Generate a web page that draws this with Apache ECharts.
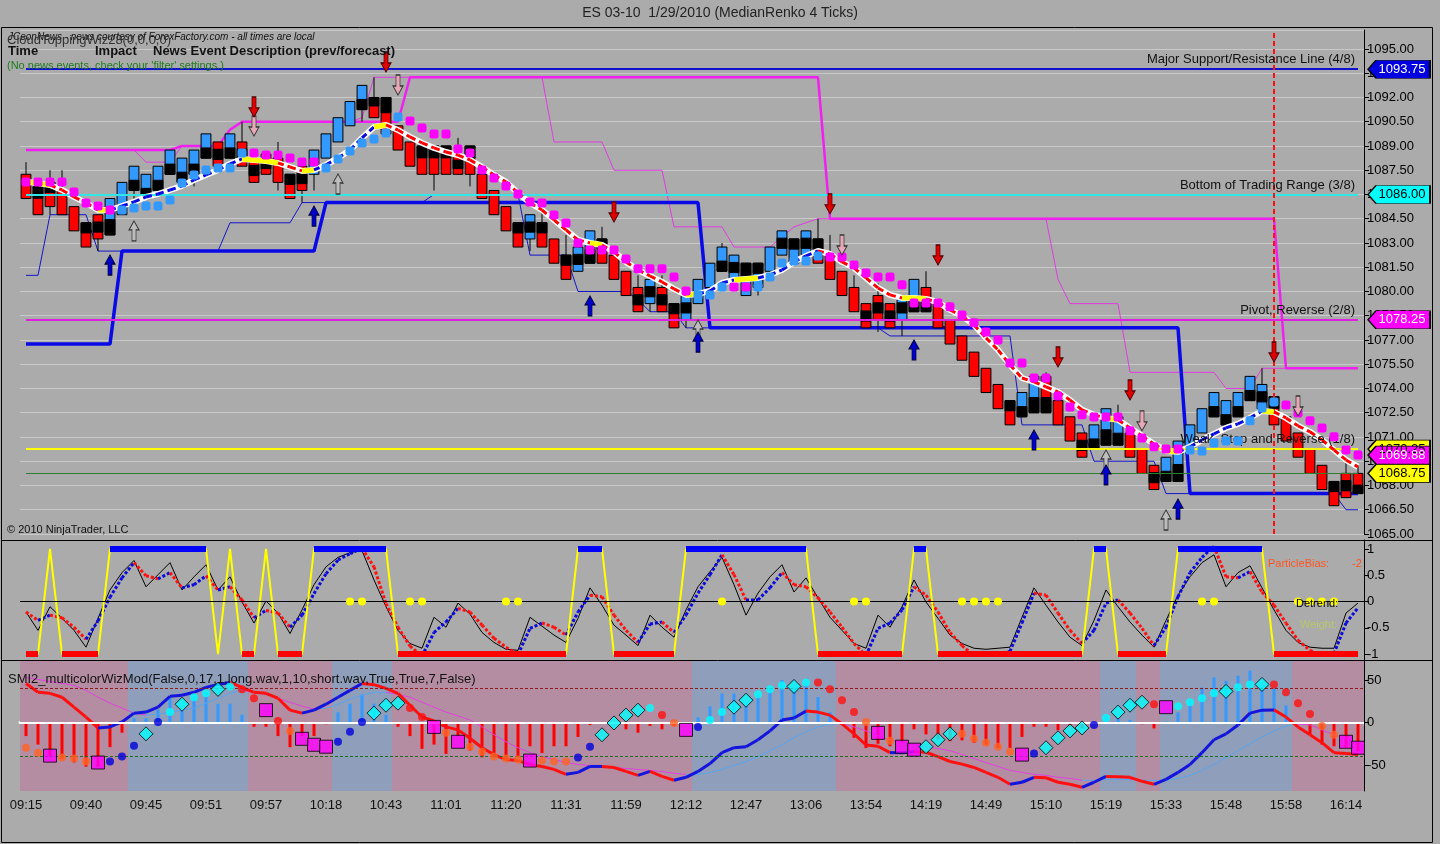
<!DOCTYPE html>
<html>
<head>
<meta charset="utf-8">
<title>ES 03-10 1/29/2010 (MedianRenko 4 Ticks)</title>
<script src="https://cdn.jsdelivr.net/npm/echarts@6.0.0/dist/echarts.min.js"></script>
<style>
html,body{margin:0;padding:0;background:#ababab;}
#chart{width:1440px;height:844px;}
</style>
</head>
<body>
<div id="chart"></div>
<script>
// ---- data ----
var tickLabels = ['09:15','09:40','09:45','09:51','09:57','10:18','10:43','11:01','11:20','11:31','11:59','12:12',
  '12:47','13:06','13:54','14:19','14:49','15:10','15:19','15:33','15:48','15:58','16:14'];

var opens = [1087.25,1086.5,1086.75,1086.25,1085.25,1084.25,1084.75,1083.5,1084.75,1086.25,
  1085.75,1086.25,1087.25,1086.75,1087.25,1088.25,1089.25,1088.25,1089.25,1088.25,
  1088.5,1088.25,1087.25,1087.75,1087.25,1088.25,1089.25,1090.25,1091.25,1092.0,
  1092.0,1090.25,1089.25,1089.0,1089.0,1089.0,1088.5,1089.0,1087.25,1086.25,
  1085.25,1084.25,1083.25,1084.25,1083.25,1082.25,1081.25,1081.75,1083.25,1082.25,
  1081.25,1080.25,1079.25,1080.25,1079.25,1078.25,1079.25,1080.25,1081.25,1080.75,
  1079.75,1080.25,1081.25,1082.25,1081.75,1082.25,1083.25,1082.25,1081.25,1080.25,
  1079.25,1079.75,1079.25,1078.25,1078.75,1080.25,1079.25,1078.25,1077.25,1076.25,
  1075.25,1074.25,1073.25,1072.25,1072.5,1074.75,1073.25,1072.25,1071.25,1070.25,
  1070.5,1070.5,1071.25,1070.25,1069.25,1068.25,1068.25,1070.25,1071.25,1072.25,
  1071.75,1072.25,1073.25,1072.75,1073.5,1072.25,1071.25,1070.25,1069.25,1068.25,
  1068.75,1068.75];
var closes = [1085.75,1084.75,1085.25,1084.75,1083.75,1082.75,1083.25,1085.75,1086.75,1087.75,
  1087.25,1087.75,1088.75,1088.25,1088.75,1089.75,1087.75,1089.75,1087.75,1086.75,
  1087.25,1086.75,1085.75,1086.25,1088.75,1089.75,1090.75,1091.75,1092.75,1090.75,
  1089.75,1088.75,1087.75,1087.25,1087.25,1087.25,1087.25,1087.25,1085.75,1084.75,
  1083.75,1082.75,1084.75,1082.75,1081.75,1080.75,1082.75,1083.75,1081.75,1080.75,
  1079.75,1078.75,1080.75,1078.75,1077.75,1079.75,1080.75,1081.75,1082.75,1082.25,
  1081.75,1081.75,1082.75,1083.75,1083.25,1083.75,1081.75,1080.75,1079.75,1078.75,
  1077.75,1078.25,1077.75,1079.75,1080.75,1078.75,1077.75,1076.75,1075.75,1074.75,
  1073.75,1072.75,1071.75,1073.75,1074.75,1072.5,1071.75,1070.75,1069.75,1071.75,
  1072.75,1072.25,1069.75,1068.75,1067.75,1069.75,1070.75,1071.75,1072.75,1073.75,
  1073.25,1073.75,1074.75,1074.25,1071.75,1070.75,1069.75,1068.75,1067.75,1066.75,
  1067.25,1067.5];
var highs = [1088.0,1086.5,1087.5,1087.5,1085.25,1084.25,1084.75,1085.75,1086.75,1087.75,
  1087.25,1087.75,1088.75,1088.25,1088.75,1089.75,1089.25,1089.75,1090.5,1088.25,
  1088.5,1089.25,1087.25,1087.75,1088.75,1089.75,1090.75,1091.75,1092.75,1093.25,
  1092.0,1090.25,1089.25,1089.0,1089.0,1089.0,1089.5,1089.0,1087.25,1086.25,
  1085.25,1084.25,1084.75,1085.0,1083.25,1083.5,1082.75,1083.75,1084.0,1082.25,
  1081.25,1081.0,1080.75,1081.0,1079.25,1079.75,1080.75,1081.75,1083.0,1082.25,
  1081.75,1081.75,1082.75,1083.75,1083.25,1083.75,1084.5,1083.5,1081.25,1081.0,
  1079.25,1080.5,1079.25,1079.75,1080.75,1081.25,1079.25,1078.25,1077.25,1076.25,
  1075.25,1074.25,1073.25,1073.75,1074.75,1075.0,1073.25,1072.25,1071.25,1071.75,
  1072.75,1073.0,1071.25,1070.25,1069.25,1069.75,1070.75,1071.75,1072.75,1073.75,
  1073.25,1073.75,1074.75,1075.25,1073.5,1072.25,1071.25,1070.25,1069.25,1068.25,
  1069.5,1069.25];
var lows = [1085.75,1084.75,1084.75,1084.75,1083.75,1082.75,1082.5,1083.5,1084.75,1085.75,
  1085.75,1086.25,1087.25,1086.75,1086.5,1088.25,1087.75,1088.25,1087.75,1086.75,
  1087.25,1086.25,1085.75,1085.5,1086.25,1088.25,1089.25,1090.25,1090.5,1090.75,
  1089.75,1088.75,1087.75,1087.25,1086.25,1087.25,1087.25,1086.5,1085.75,1084.75,
  1083.75,1082.75,1082.5,1082.75,1081.75,1080.75,1081.25,1081.75,1081.75,1080.75,
  1079.75,1078.75,1078.75,1078.75,1077.75,1077.75,1079.25,1080.25,1081.25,1080.75,
  1079.75,1079.75,1081.25,1082.25,1081.75,1082.25,1081.75,1080.75,1079.75,1078.75,
  1077.75,1077.5,1077.75,1077.25,1078.75,1078.75,1077.75,1076.75,1075.75,1074.75,
  1073.75,1072.75,1071.75,1072.25,1072.5,1072.5,1071.75,1070.75,1069.75,1070.25,
  1070.5,1070.5,1069.75,1068.75,1067.75,1068.25,1068.25,1070.25,1071.25,1072.25,
  1071.75,1072.25,1073.25,1072.75,1071.75,1070.75,1069.75,1068.75,1067.75,1066.75,
  1067.25,1067.5];
// neutral (black) part of the renko box: 0 none, 1 top, -1 bottom, 2 middle
var blk = [0,1,1,0,0,1,2,-1,0,-1, -1,-1,-1,-1,-1,-1,2,-1,2,2, 2,0,1,2,0,0,0,0,-1,1,
  1,0,0,1,1,1,2,1,0,0, 0,1,2,1,0,1,2,-1,1,0, 0,2,2,2,1,2,0,0,-1,2,
  1,1,0,2,1,2,1,0,0,0, 2,2,2,2,-1,-1,0,0,0,0, 0,0,1,-1,-1,-1,0,0,2,-1,
  -1,-1,0,0,2,-1,-1,0,0,-1, -1,-1,-1,2,1,0,0,0,0,1, 2,-1];

var maVals = [1086.78,1086.71,1086.59,1086.28,1085.85,1085.48,1085.04,1085.04,1085.29,1085.54,
  1085.85,1086.03,1086.28,1086.53,1086.9,1087.21,1087.52,1087.89,1088.2,1088.14,
  1088.07,1087.95,1087.7,1087.46,1087.52,1087.83,1088.26,1088.75,1089.5,1090.18,
  1090.3,1089.99,1089.56,1089.19,1088.88,1088.63,1088.44,1088.14,1087.7,1087.21,
  1086.78,1086.09,1085.48,1085.04,1084.43,1083.81,1083.19,1083.0,1082.88,1082.45,
  1081.83,1081.33,1080.96,1080.59,1080.16,1079.79,1079.85,1080.03,1080.53,1080.71,
  1080.78,1080.84,1081.02,1081.33,1081.83,1082.2,1082.51,1082.32,1081.83,1081.46,
  1080.84,1080.22,1079.79,1079.6,1079.6,1079.54,1079.35,1078.86,1078.49,1077.93,
  1077.13,1076.39,1075.46,1074.65,1074.41,1074.1,1073.79,1073.29,1072.68,1072.37,
  1072.18,1072.06,1071.56,1071.07,1070.57,1070.14,1070.08,1070.39,1070.82,1071.19,
  1071.56,1071.81,1072.18,1072.61,1072.55,1072.18,1071.69,1071.32,1070.82,1070.2,
  1069.58,1069.15];

var dotsDn = [[0,1086.78],[1,1086.78],[2,1086.78],[3,1086.78],[4,1086.16],[5,1085.48],[6,1085.29],[7,1085.04],
  [19,1088.57],[20,1088.44],[21,1088.44],[22,1088.26],[23,1088.01],[24,1088.01],
  [32,1090.55],[33,1090.11],[34,1089.74],[35,1089.74],[36,1088.82],[37,1088.57],[38,1087.52],[39,1087.02],
  [40,1086.53],[41,1086.03],[42,1085.54],[43,1085.48],[44,1084.73],[45,1084.24],[46,1083.0],[47,1082.57],
  [48,1082.57],[49,1082.57],[50,1082.01],[51,1081.4],[52,1081.4],[53,1081.4],[54,1080.9],[55,1080.03],
  [59,1080.28],[60,1080.28],
  [67,1082.14],[68,1082.14],[69,1081.64],[70,1081.15],[71,1080.9],[72,1080.9],[73,1080.41],[74,1079.29],
  [75,1079.29],[76,1079.29],[77,1079.05],[78,1078.55],[79,1078.06],[80,1077.5],[81,1077.0],[82,1075.58],
  [83,1075.58],[84,1074.65],[85,1074.65],[86,1073.54],[87,1072.86],[88,1072.37],[89,1072.24],[90,1072.24],
  [91,1072.24],[92,1071.38],[93,1070.94],[94,1070.39],[95,1070.26],[96,1070.26],
  [105,1072.98],[106,1072.49],[107,1072.0],[108,1071.56],[109,1071.01],[110,1070.2],[111,1069.88]];
var dotsUp = [[8,1085.04],[9,1085.17],[10,1085.29],[11,1085.29],[12,1085.66],[13,1086.71],[14,1087.21],
  [15,1087.52],[16,1087.64],[17,1087.64],[18,1088.57],
  [25,1087.64],[26,1088.2],[27,1088.69],[28,1089.19],[29,1089.43],[30,1089.81],[31,1090.8],
  [56,1079.79],[57,1079.79],[58,1080.28],[61,1080.28],[62,1080.9],[63,1081.77],[64,1081.89],[65,1081.89],[66,1082.2],
  [97,1070.2],[98,1070.14],[99,1070.63],[100,1070.76],[101,1070.76],[102,1072.0],[103,1072.8],[104,1073.17]];

var supportStep = [[0,1076.75],[7,1076.75],[8,1082.5],[24,1082.5],[25,1085.5],[56,1085.5],
  [57,1077.75],[96,1077.75],[97,1067.5],[111,1067.5]];
var trailThin = [[0,1081.0],[1,1081.0],[2,1084.75],[5,1084.75],[6,1082.5],[16,1082.5],[17,1084.25],[22,1084.25],
  [23,1085.5],[33,1085.5],[34,1086.0],[41,1086.0],[42,1082.25],[45,1082.25],[46,1080.0],[50,1080.0],
  [51,1079.5],[52,1078.75],[54,1078.75],[55,1077.75],[71,1077.75],[72,1077.25],[82,1077.25],[83,1071.75],
  [88,1071.75],[89,1069.5],[94,1069.5],[95,1067.5],[109,1067.5],[110,1066.5],[111,1066.5]];
var resistThick = [[0,1088.75],[12,1088.75],[13,1089.0],[16,1089.0],[17,1090.0],[18,1090.5],[31,1090.5],
  [32,1093.25],[66,1093.25],[67,1084.5],[104,1084.5],[105,1075.25],[111,1075.25]];
var resistThin = [[9,1088.75],[10,1088.0],[12,1088.0],[13,1089.0],[16,1089.0],[17,1090.0],[18,1090.5],[27,1090.5],
  [28,1090.75],[29,1093.25],[43,1093.25],[44,1089.25],[48,1089.25],[49,1087.5],[53,1087.5],[54,1084.0],
  [58,1084.0],[59,1082.75],[62,1082.75],[64,1084.0],[66,1084.5],[85,1084.5],[86,1080.75],[87,1079.25],
  [91,1079.25],[92,1075.0],[99,1075.0],[100,1074.0],[102,1074.0],[103,1075.25],[111,1075.25]];

var levelVals = [1093.75, 1086.00, 1078.25, 1070.25];
var levelNames = ['Major Support/Resistance Line (4/8)', 'Bottom of Trading Range (3/8)',
  'Pivot, Reverse (2/8)', 'Weak, Stop and Reverse (1/8)'];
var lastPrice = 1068.75;
var markerBar = 104;
var tagVals = [1093.75, 1086.00, 1078.25, 1070.25, 1069.88, 1068.75];

var sellArrows = [[19,1091.41],[30,1094.2],[49,1084.92],[67,1085.42],[76,1082.26],[86,1075.95],[92,1073.91],[104,1076.26]];
var sellHollow = [[19,1090.24],[31,1092.77],[68,1082.88],[93,1072.0],[106,1072.92]];
var buyArrows = [[7,1081.64],[24,1084.67],[47,1079.11],[56,1076.88],[74,1076.39],[84,1070.82],[90,1068.66],[96,1066.55]];
var buyHollow = [[9,1083.75],[26,1086.65],[56,1077.62],[90,1069.58],[95,1065.87]];

// middle panel
var stateVals = [-1,-1,1,-1,-1,-1,-1,1,1,1, 1,1,1,1,1,1,-1,1,-1,-1, 1,-1,-1,-1,1,1,1,1,1,1,
  1,-1,-1,-1,-1,-1,-1,-1,-1,-1, -1,-1,-1,-1,-1,-1,1,1,1,-1, -1,-1,-1,-1,-1,1,1,1,1,1,
  1,1,1,1,1,1,-1,-1,-1,-1, -1,-1,-1,-1,1,1,-1,-1,-1,-1, -1,-1,-1,-1,-1,-1,-1,-1,-1,1,
  1,-1,-1,-1,-1,-1,1,1,1,1, 1,1,1,1,-1,-1,-1,-1,-1,-1, -1,-1];
var blackOsc = [-0.2,-0.55,-0.1,-0.32,-0.55,-0.87,-0.32,0.22,0.55,0.78,
  0.28,0.51,0.74,0.22,0.47,0.70,0.22,0.47,-0.01,-0.41,
  0.01,-0.22,-0.61,-0.16,0.32,0.66,0.84,0.93,0.97,0.41,
  -0.1,-0.55,-0.8,-0.89,-0.3,-0.49,-0.03,-0.24,-0.59,-0.78,
  -0.91,-0.93,-0.3,-0.47,-0.64,-0.78,-0.32,0.26,-0.07,-0.45,
  -0.64,-0.84,-0.26,-0.49,-0.68,-0.16,0.28,0.57,0.84,0.32,
  -0.26,0.16,0.47,0.70,0.18,0.45,0.07,-0.30,-0.55,-0.80,
  -0.89,-0.26,-0.49,-0.1,0.41,-0.01,-0.32,-0.64,-0.8,-0.89,
  -0.91,-0.89,-0.87,-0.3,0.26,-0.07,-0.39,-0.68,-0.84,-0.36,
  0.22,-0.1,-0.39,-0.64,-0.87,-0.36,0.12,0.47,0.74,0.89,
  0.28,0.55,0.68,0.26,-0.16,-0.55,-0.78,-0.87,-0.89,-0.89,
  -0.22,-0.03];
var dotOsc = [-0.2,-0.36,-0.26,-0.31,-0.49,-0.72,-0.37,0.08,0.45,0.74,
  0.49,0.43,0.55,0.26,0.32,0.49,0.22,0.28,0.03,-0.31,
  -0.17,-0.22,-0.49,-0.26,0.15,0.53,0.79,0.91,1.01,0.66,
  -0.04,-0.49,-0.85,-1.04,-0.59,-0.39,-0.13,-0.2,-0.45,-0.7,
  -0.87,-1.01,-0.51,-0.41,-0.49,-0.64,-0.2,0.12,0.09,-0.26,
  -0.55,-0.78,-0.43,-0.39,-0.59,-0.26,0.16,0.51,0.89,0.51,
  0.03,0.03,0.26,0.55,0.32,0.28,0.07,-0.2,-0.49,-0.8,
  -1.03,-0.51,-0.41,-0.16,0.28,0.12,-0.2,-0.59,-0.84,-1.03,
  -1.03,-1.0,-0.95,-0.41,0.16,0.12,-0.22,-0.55,-0.8,-0.55,
  -0.03,0.03,-0.22,-0.51,-0.84,-0.49,0.09,0.55,0.84,1.05,
  0.47,0.45,0.57,0.18,-0.07,-0.41,-0.74,-0.93,-1.03,-0.99,
  -0.41,-0.12];
var yellowDotBars = [27,28,32,33,40,41,58,69,70,78,79,80,81,98,99,106,107,108,109];

// bottom panel
var bgBands = [[0,8,0],[9,18,1],[19,25,0],[26,30,1],[31,55,0],[56,67,1],[68,89,0],[90,92,1],[93,94,0],[95,105,1],[106,111,0]];
var histVals = [-16,-26,-40,-43,-47,-52,-52,-29,-12,5, 5,15,29,15,30,35,22,22,9,-5,
  -5,-16,-29,-16,-16,-2,12,22,33,22, 9,-5,-16,-31,-26,-37,-16,-33,-41,-41,
  -43,-41,-28,-36,-28,-28,-17,-3,-1,-1, -8,-12,-4,-8,-4,-1,6,19,34,34,
  23,34,41,50,41,46,30,12,-2,-18, -30,-25,-28,-24,-8,-14,-20,-22,-21,-24,
  -26,-30,-30,-17,-5,-5,-9,-5,-7,-1, 9,5,3,-2,-7,1,12,26,41,53,
  49,55,61,44,40,20,-2,-14,-26,-28, -30,-34];
var smiVals = [45.9,35.5,34.3,29.7,18.0,6.4,-6.4,-5.2,0.6,11.0,
  12.2,18.0,30.8,32.0,35.5,41.3,44.8,47.1,41.3,35.5,
  34.3,28.5,14.5,11.0,14.5,21.5,29.7,37.8,45.9,44.5,
  40.1,34.3,20.3,6.4,1.7,-5.2,-8.7,-18.5,-29.7,-37.8,
  -43.6,-44.8,-49.4,-51.7,-55.2,-61.0,-58.7,-51.7,-51.7,-52.9,
  -57.6,-62.2,-57.6,-63.4,-68.0,-64.5,-57.6,-48.3,-35.5,-29.7,
  -28.5,-20.3,-9.9,2.9,5.2,13.4,12.2,8.7,-1.7,-13.4,
  -26.5,-28.0,-35.5,-35.5,-34.3,-35.0,-40.1,-45.9,-49.0,-52.9,
  -58.7,-64.5,-72.7,-70.3,-64.5,-65.0,-70.3,-72.7,-76.2,-70.3,
  -63.4,-63.8,-64.5,-69.2,-72.7,-66.9,-58.7,-49.4,-35.5,-20.3,
  -13.4,-2.9,11.0,14.5,14.8,6.4,-5.2,-14.5,-23.8,-35.5,
  -36.6,-37.8];
var sigVals = [52.9,50.6,48.3,45.9,43.6,37.8,29.7,22.7,16.9,11.0,
  8.7,9.9,12.2,14.5,16.9,22.7,28.5,34.3,37.8,35.5,
  33.1,28.5,23.8,19.2,15.7,16.9,21.5,27.3,32.0,35.5,
  35.5,33.1,29.7,23.8,18.0,12.2,7.6,2.9,-5.2,-14.5,
  -22.7,-29.7,-35.5,-40.1,-43.6,-47.1,-49.4,-50.6,-51.7,-52.9,
  -54.1,-55.2,-56.4,-57.6,-59.9,-61.0,-61.0,-58.7,-55.2,-50.6,
  -45.9,-40.1,-33.1,-26.2,-18.0,-11.0,-5.2,-1.7,-1.7,-5.2,
  -9.9,-15.7,-20.3,-23.8,-26.2,-28.5,-30.8,-33.1,-37.8,-42.4,
  -47.1,-51.7,-56.4,-58.7,-61.0,-62.2,-64.5,-65.7,-68.0,-68.0,
  -66.9,-66.9,-66.9,-68.0,-68.0,-68.0,-65.7,-62.2,-56.4,-49.4,
  -41.3,-33.1,-25.0,-16.9,-9.9,-4.1,-1.7,-2.9,-8.7,-14.5,
  -19.2,-23.8];
var dotVals = [-29.7,-35.5,-39.0,-41.3,-42.4,-45.9,-47.1,-45.9,-40.1,-27.3,
  -13.4,0.6,12.2,21.5,29.7,34.3,39.0,42.4,39.0,28.5,
  14.5,1.7,-9.9,-19.2,-26.2,-28.5,-22.7,-11.0,0.6,11.0,
  20.3,22.7,16.9,6.4,-5.2,-12.2,-22.7,-28.5,-34.3,-40.1,
  -42.4,-43.6,-44.8,-44.8,-45.9,-45.9,-41.3,-28.5,-14.5,-0.6,
  8.7,14.5,16.9,8.7,-0.6,-8.7,-5.2,2.9,12.2,18.0,
  26.2,33.1,39.0,43.6,42.4,47.1,47.1,39.0,26.2,12.2,
  0.6,-12.2,-21.5,-28.5,-32.0,-28.5,-20.3,-13.4,-13.4,-19.2,
  -23.8,-28.5,-34.3,-37.8,-36.6,-29.7,-18.0,-9.9,-6.4,-2.9,
  5.2,12.2,20.3,23.8,21.5,18.0,19.2,23.8,28.5,34.3,
  36.6,41.3,44.8,44.8,44.8,35.5,22.7,9.9,-4.1,-14.5,
  -22.7,-29.7];
// o orange, r red, b blue, c cyan dot, d diamond, s square
var dotKind = 'oosooosbbb' + 'dbcdccdcrr' + 'srosssbbbd' + 'ddrrsosooo' + 'oosooobbdd' +
  'ddcrosbccd' + 'dcccdcrrrr' + 'osossdddoo' + 'ooosbddddb' + 'cdddrscccc' + 'dccdrrrroo' + 'ss';

// ---- chart ----
var FONT = '"Liberation Sans", Arial, sans-serif';
var barIdx = opens.map(function (o, i) { return i; });
var chart = echarts.init(document.getElementById('chart'));

function segSeries(gi, vals, z, styleFn) {
  var data = [];
  for (var i = 0; i < vals.length - 1; i++) data.push([i, vals[i], vals[i + 1]]);
  return {
    type: 'custom', xAxisIndex: gi, yAxisIndex: gi, z: z, silent: true, data: data,
    encode: { x: 0, y: [1, 2] },
    renderItem: function (params, api) {
      var i = api.value(0);
      var a = api.coord([i, api.value(1)]), b = api.coord([i + 1, api.value(2)]);
      return { type: 'line', shape: { x1: a[0], y1: a[1], x2: b[0], y2: b[1] },
        style: styleFn(api.value(2) - api.value(1)) };
    }
  };
}

function arrowSeries(data, fill, border, up) {
  return {
    type: 'scatter', xAxisIndex: 0, yAxisIndex: 0, z: 7, silent: true, data: data,
    symbol: 'path://M3,0 L7,0 L7,11 L10,11 L5,20 L0,11 L3,11 Z',
    symbolSize: [10, 20], symbolRotate: up ? 180 : 0,
    itemStyle: { color: fill, borderColor: border, borderWidth: 1, opacity: 1 }
  };
}

var tagStyle = [['#0000E0', '#fff'], ['#00FFFF', '#000'], ['#FF00FF', '#fff'],
  ['#FFFF00', '#000'], ['#FF00FF', '#fff'], ['#FFFF00', '#000']];
var levelColors = ['#1010D0', '#33E6E6', '#E020E0', '#FFFF00'];

var levelLines = levelVals.map(function (v, k) {
  return [{ name: levelNames[k], coord: [0, v], lineStyle: { color: levelColors[k], width: 2, type: 'solid' } },
          { coord: [opens.length - 1, v] }];
});
levelLines.push([{ name: '', coord: [0, lastPrice], lineStyle: { color: '#2E7D32', width: 1, type: 'solid' }, label: { show: false } },
  { coord: [opens.length - 1, lastPrice] }]);

var kindStyle = {
  o: { symbol: 'circle', size: 8, color: '#FF6424' },
  r: { symbol: 'circle', size: 8, color: '#FF1010' },
  b: { symbol: 'circle', size: 8, color: '#0000DD' },
  c: { symbol: 'circle', size: 8, color: '#00FFFF' },
  d: { symbol: 'diamond', size: 14, color: '#00FFFF', border: '#000' },
  s: { symbol: 'rect', size: 13, color: '#FF00FF', border: '#000' }
};
var smiDots = dotVals.map(function (v, i) {
  var k = kindStyle[dotKind.charAt(i)];
  return { value: [i, v], symbol: k.symbol, symbolSize: k.size,
    itemStyle: { color: k.color, borderColor: k.border || k.color, borderWidth: k.border ? 1 : 0 } };
});

function xAxisFor(g) {
  return {
    type: 'category', gridIndex: g, data: barIdx, boundaryGap: true,
    axisLine: { show: g === 2, lineStyle: { color: '#ffffff', width: 3, type: [8, 4] } },
    axisTick: { show: g === 2, interval: 4, alignWithLabel: true, length: 5, lineStyle: { color: '#000' } },
    axisLabel: { show: g === 2, interval: 4, color: '#111', fontSize: 13, fontFamily: FONT, margin: 8,
      formatter: function (v, idx) { return tickLabels[idx / 5] || ''; } },
    splitLine: { show: false }
  };
}
var yBase = {
  type: 'value', position: 'right',
  axisLine: { show: true, lineStyle: { color: '#000' } },
  axisTick: { show: true, length: 5, lineStyle: { color: '#000' } },
  axisLabel: { color: '#000', fontSize: 13, fontFamily: FONT, margin: 3, showMinLabel: false, showMaxLabel: false },
  splitLine: { show: false }
};

var option = {
  backgroundColor: '#ababab',
  animation: false,
  grid: [
    { left: 20, right: 76, top: 30, height: 504 },
    { left: 20, right: 76, top: 540, height: 120 },
    { left: 20, right: 76, top: 660, height: 131 }
  ],
  xAxis: [xAxisFor(0), xAxisFor(1), xAxisFor(2)],
  yAxis: [
    echarts.util.merge({ gridIndex: 0, min: 1065, max: 1096.175, interval: 1.5,
      axisLabel: { showMinLabel: true, formatter: function (v) { return v.toFixed(2); } },
      splitLine: { show: true, lineStyle: { color: '#c9c9c9', width: 1 } } }, yBase, false),
    echarts.util.merge({ gridIndex: 1, min: -1.114, max: 1.171, splitNumber: 4 }, yBase, false),
    echarts.util.merge({ gridIndex: 2, min: -80.6, max: 73.5, splitNumber: 3 }, yBase, false)
  ],
  graphic: [
    { type: 'text', left: 'center', top: 6, silent: true,
      style: { text: 'ES 03-10  1/29/2010 (MedianRenko 4 Ticks)', fill: '#222', font: '14px ' + FONT } },
    { type: 'text', x: 8, y: 32, silent: true, z: 50,
      style: { text: 'JCeonNews - news courtesy of ForexFactory.com - all times are local', fill: '#111', font: 'italic 10px ' + FONT } },
    { type: 'text', x: 7, y: 34, silent: true, z: 50,
      style: { text: 'CloudToppingWiz28(0,0,0,0)', fill: '#333', font: '13px ' + FONT } },
    { type: 'text', x: 8, y: 45, silent: true, z: 50, style: { text: 'Time', fill: '#111', font: 'bold 13px ' + FONT } },
    { type: 'text', x: 95, y: 45, silent: true, z: 50, style: { text: 'Impact', fill: '#111', font: 'bold 13px ' + FONT } },
    { type: 'text', x: 153, y: 45, silent: true, z: 50,
      style: { text: 'News Event Description (prev/forecast)', fill: '#111', font: 'bold 13px ' + FONT } },
    { type: 'text', x: 7, y: 60, silent: true, z: 50,
      style: { text: "(No news events, check your 'filter' settings.)", fill: '#1E7B1E', font: '11px ' + FONT } },
    { type: 'text', x: 7, y: 524, silent: true, z: 50,
      style: { text: '\u00A9 2010 NinjaTrader, LLC', fill: '#111', font: '11px ' + FONT } },
    { type: 'text', x: 1268, y: 558, silent: true, z: 50,
      style: { text: 'ParticleBias:', fill: '#FF5522', font: '11px ' + FONT } },
    { type: 'text', x: 1352, y: 558, silent: true, z: 50, style: { text: '-2', fill: '#FF5522', font: '11px ' + FONT } },
    { type: 'text', x: 1296, y: 598, silent: true, z: 50, style: { text: 'Detrend:', fill: '#000', font: '11px ' + FONT } },
    { type: 'text', x: 1300, y: 619, silent: true, z: 50, style: { text: 'Weight:', fill: '#B7C86A', font: '11px ' + FONT } },
    { type: 'text', x: 8, y: 673, silent: true, z: 50,
      style: { text: 'SMI2_multicolorWizMod(False,0,17,1,long.wav,1,10,short.wav,True,True,7,False)', fill: '#111', font: '13px ' + FONT } },
    { type: 'rect', silent: true, z: 60, shape: { x: 1.5, y: 27.5, width: 1431, height: 815 },
      style: { fill: 'none', stroke: '#000', lineWidth: 1 } },
    { type: 'line', silent: true, z: 60, shape: { x1: 2, y1: 540.5, x2: 1433, y2: 540.5 }, style: { stroke: '#000', lineWidth: 1 } },
    { type: 'line', silent: true, z: 60, shape: { x1: 2, y1: 660.5, x2: 1433, y2: 660.5 }, style: { stroke: '#000', lineWidth: 1 } }
  ],
  series: [
    // Murrey levels, last price, price tags
    { type: 'line', xAxisIndex: 0, yAxisIndex: 0, z: 1, data: [], silent: true,
      markLine: { symbol: ['none', 'none'], silent: true, data: levelLines,
        label: { show: true, position: 'insideEndTop', formatter: '{b}', color: '#111', fontSize: 13, fontFamily: FONT, distance: 3 } },
      markPoint: { silent: true,
        data: tagVals.map(function (v, k) {
          return { coord: [opens.length - 1, v], value: v.toFixed(2),
            symbol: 'path://M0,9 L8,0 L62,0 L62,18 L8,18 Z', symbolSize: [62, 18], symbolOffset: [41, 0],
            itemStyle: { color: tagStyle[k][0], borderColor: '#000', borderWidth: 1 },
            label: { color: tagStyle[k][1] } };
        }),
        label: { show: true, position: 'inside', formatter: '{c}', fontSize: 13, fontFamily: FONT, offset: [3, 0] } } },
    // trailing stops / resistance steps
    { type: 'line', xAxisIndex: 0, yAxisIndex: 0, z: 2, data: resistThin, symbol: 'none', silent: true,
      lineStyle: { color: '#E03CE0', width: 1 } },
    { type: 'line', xAxisIndex: 0, yAxisIndex: 0, z: 2, data: resistThick, symbol: 'none', silent: true,
      lineStyle: { color: '#F020F0', width: 2.5 } },
    { type: 'line', xAxisIndex: 0, yAxisIndex: 0, z: 2, data: trailThin, symbol: 'none', silent: true,
      lineStyle: { color: '#1515C8', width: 1 } },
    { type: 'line', xAxisIndex: 0, yAxisIndex: 0, z: 2, data: supportStep, symbol: 'none', silent: true,
      lineStyle: { color: '#0A0AE6', width: 3.5 } },
    // renko boxes
    { type: 'custom', xAxisIndex: 0, yAxisIndex: 0, z: 3, silent: true,
      data: opens.map(function (o, i) { return [i, o, closes[i], lows[i], highs[i], blk[i]]; }),
      encode: { x: 0, y: [1, 2, 3, 4] },
      renderItem: function (params, api) {
        var i = api.value(0), o = api.value(1), c = api.value(2), lo = api.value(3), hi = api.value(4), k = api.value(5);
        var top = api.coord([i, Math.max(o, c)]), bot = api.coord([i, Math.min(o, c)]);
        var pH = api.coord([i, hi]), pL = api.coord([i, lo]);
        var w = api.size([1, 0])[0] * 0.82, x = top[0], h = bot[1] - top[1];
        var ch = [
          { type: 'line', shape: { x1: x, y1: pH[1], x2: x, y2: pL[1] }, style: { stroke: '#000', lineWidth: 1 } },
          { type: 'rect', shape: { x: x - w / 2, y: top[1], width: w, height: h },
            style: { fill: c >= o ? '#3399FF' : '#FF0000', stroke: '#000', lineWidth: 1 } }
        ];
        if (k) {
          var bh = h * 0.42, by = k === 1 ? top[1] : (k === -1 ? bot[1] - bh : top[1] + h * 0.3);
          ch.push({ type: 'rect', shape: { x: x - w / 2, y: by, width: w, height: bh },
            style: { fill: '#000', stroke: '#000', lineWidth: 1 } });
        }
        return { type: 'group', children: ch };
      } },
    // moving average: white base + coloured dashes
    { type: 'line', xAxisIndex: 0, yAxisIndex: 0, z: 4, data: maVals, symbol: 'none', silent: true,
      lineStyle: { color: '#ffffff', width: 6 } },
    segSeries(0, maVals, 5, function (d) {
      if (Math.abs(d) < 0.15) return { stroke: '#FFFF00', lineWidth: 5 };
      return { stroke: d > 0 ? '#0A0ADC' : '#FF0000', lineWidth: 3, lineDash: [6, 4] };
    }),
    { type: 'scatter', xAxisIndex: 0, yAxisIndex: 0, z: 6, data: dotsDn, symbol: 'roundRect', symbolSize: 9, silent: true,
      itemStyle: { color: '#FF00FF', opacity: 1 } },
    { type: 'scatter', xAxisIndex: 0, yAxisIndex: 0, z: 6, data: dotsUp, symbol: 'roundRect', symbolSize: 9, silent: true,
      itemStyle: { color: '#3399FF', opacity: 1 } },
    arrowSeries(sellHollow, '#E8A8B8', '#333', false),
    arrowSeries(buyHollow, '#BDBDBD', '#333', true),
    arrowSeries(sellArrows, '#E00000', '#500000', false),
    arrowSeries(buyArrows, '#0000CC', '#000040', true),
    { type: 'line', xAxisIndex: 0, yAxisIndex: 0, z: 8, data: [], silent: true,
      markLine: { symbol: ['none', 'none'], silent: true, label: { show: false },
        data: [{ xAxis: markerBar, lineStyle: { color: '#FF1010', width: 2, type: [5, 3] } }] } },

    // ---- middle panel ----
    { type: 'line', xAxisIndex: 1, yAxisIndex: 1, z: 2, data: blackOsc, symbol: 'none', silent: true,
      lineStyle: { color: '#000', width: 1 },
      markLine: { symbol: ['none', 'none'], silent: true, label: { show: false },
        data: [{ yAxis: 0, lineStyle: { color: '#000', width: 1, type: 'solid' } }] } },
    segSeries(1, dotOsc, 3, function (d) {
      return { stroke: d >= 0 ? '#0A0ADC' : '#FF1010', lineWidth: 3, lineDash: [3, 2] };
    }),
    { type: 'line', xAxisIndex: 1, yAxisIndex: 1, z: 4, data: stateVals, symbol: 'none', silent: true,
      lineStyle: { color: '#FFFF00', width: 2 } },
    { type: 'line', xAxisIndex: 1, yAxisIndex: 1, z: 5, symbol: 'none', silent: true,
      data: stateVals.map(function (v) { return v === 1 ? v : null; }),
      lineStyle: { color: '#0000FF', width: 6 } },
    { type: 'line', xAxisIndex: 1, yAxisIndex: 1, z: 5, symbol: 'none', silent: true,
      data: stateVals.map(function (v) { return v === -1 ? v : null; }),
      lineStyle: { color: '#FF0000', width: 6 } },
    { type: 'scatter', xAxisIndex: 1, yAxisIndex: 1, z: 6, symbolSize: 8, silent: true,
      data: yellowDotBars.map(function (i) { return [i, 0]; }), itemStyle: { color: '#FFFF00', opacity: 1 } },

    // ---- bottom panel ----
    { type: 'custom', xAxisIndex: 2, yAxisIndex: 2, z: 1, silent: true, data: bgBands,
      encode: { x: [0, 1], y: 2 },
      renderItem: function (params, api) {
        var half = api.size([1, 0])[0] / 2;
        var x0 = api.coord([api.value(0), 0])[0] - half, x1 = api.coord([api.value(1), 0])[0] + half;
        var cs = params.coordSys;
        return { type: 'rect', shape: { x: x0, y: cs.y, width: x1 - x0, height: cs.height },
          style: { fill: api.value(2) ? '#8E9EBB' : '#B58DA2' } };
      },
      markLine: { symbol: ['none', 'none'], silent: true, label: { show: false },
        data: [
          { yAxis: 40, lineStyle: { color: '#8B1A1A', width: 1, type: [3, 2] } },
          { yAxis: -40, lineStyle: { color: '#1E6B1E', width: 1, type: [3, 2] } },
          { yAxis: 0, lineStyle: { color: '#ffffff', width: 2, type: 'solid' } }
        ] } },
    { type: 'bar', xAxisIndex: 2, yAxisIndex: 2, z: 2, barWidth: 3, silent: true, data: histVals,
      itemStyle: { color: function (p) { return p.value >= 0 ? '#3399FF' : '#FF0000'; } } },
    segSeries(2, sigVals, 3, function (d) {
      return { stroke: d >= 0 ? '#5AA5EE' : '#E040E0', lineWidth: 1 };
    }),
    segSeries(2, smiVals, 4, function (d) {
      return { stroke: d >= 0 ? '#1414DC' : '#FF1010', lineWidth: 3 };
    }),
    { type: 'scatter', xAxisIndex: 2, yAxisIndex: 2, z: 5, silent: true, data: smiDots }
  ]
};
chart.setOption(option);
</script>
</body>
</html>
